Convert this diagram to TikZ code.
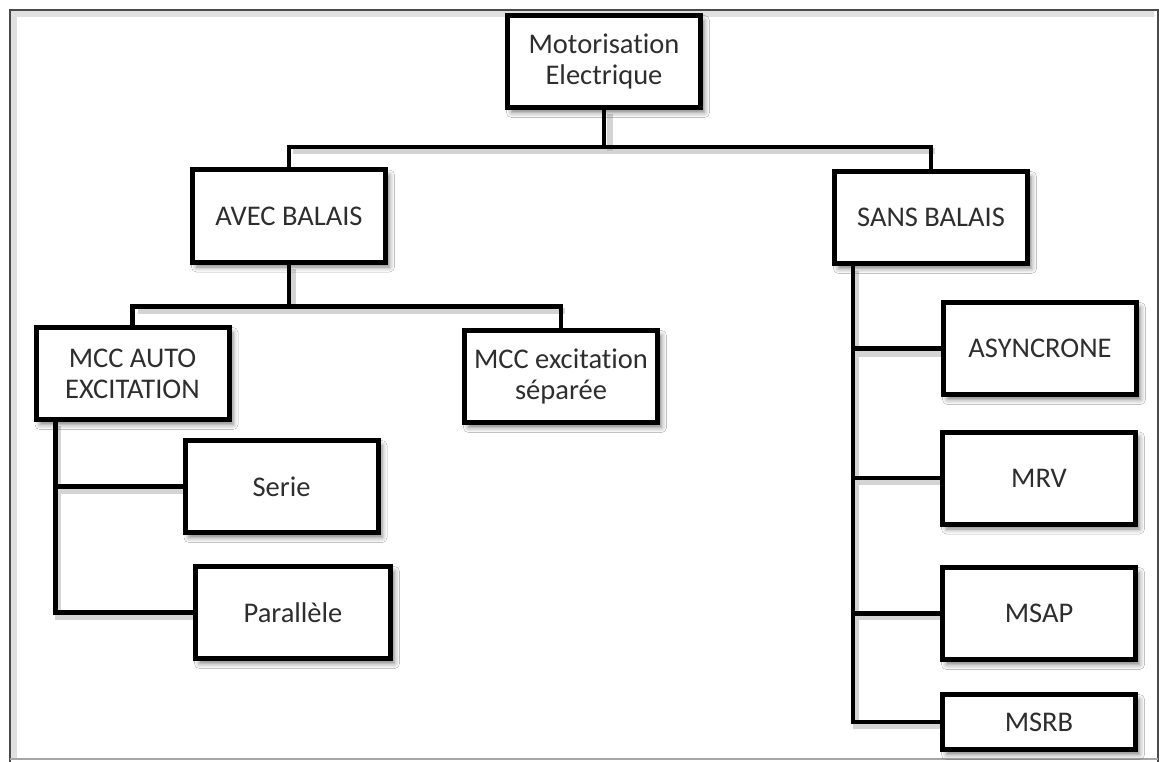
\documentclass[tikz,border=0pt]{standalone}
\usepackage{fontspec}
\setmainfont{Carlito}[Ligatures=NoCommon]
\usetikzlibrary{calc,shadows.blur}
\definecolor{inkgray}{HTML}{2E2E2E}
\definecolor{framegray}{HTML}{4A4A4A}
\begin{document}
\begin{tikzpicture}[x=1pt,y=-1pt,
  box/.style={draw=black, line width=5pt, fill=white, text=inkgray,
    align=center, font=\fontsize{28.5}{31}\selectfont,
    minimum width=193pt, minimum height=92pt, inner sep=0pt,
    blur shadow={shadow xshift=4pt, shadow yshift=-5pt,
      shadow blur radius=5pt, shadow opacity=50}},
  conn/.style={draw=black, line width=4.5pt, line join=miter},
  connshade/.style={draw=black!30, line width=6pt, opacity=0.55,
    xshift=3pt, yshift=-4pt}]
  \useasboundingbox (0,0) rectangle (1161,762);
  \fill[white] (0,0) rectangle (1161,762);
  % outer frame
  \draw[black!12, line width=6pt] (14,760) -- (14,14) -- (1154,14);
  \draw[framegray, line width=2pt] (10,762) -- (10,10) -- (1158,10) -- (1158,762);
  \draw[black!35, line width=1.5pt] (10,759) -- (1158,759);

  % box centres
  \coordinate (p-root) at (604,61.5);
  \coordinate (p-avec) at (289,216);
  \coordinate (p-sans) at (931,217.5);
  \coordinate (p-auto) at (132.5,373.5);
  \coordinate (p-sep) at (561,376.5);
  \coordinate (p-serie) at (281.5,486.5);
  \coordinate (p-par) at (293,612.5);
  \coordinate (p-async) at (1040,348.5);
  \coordinate (p-mrv) at (1039,478);
  \coordinate (p-msap) at (1039,613.5);
  \coordinate (p-msrb) at (1039,722);

  % connector shading drawn first, under everything
  \begin{scope}
    \draw[connshade] (607,110) -- (607,147);
    \draw[connshade] (290,147) -- (932,147);
    \draw[connshade] (290,265) -- (290,307) (135,307) -- (562,307);
    \draw[connshade] (55,422) -- (55,613) -- (193,613) (55,487) -- (183,487);
    \draw[connshade] (853,267) -- (853,722) -- (940,722)
      (853,350) -- (942,350) (853,478) -- (940,478) (853,613) -- (940,613);
  \end{scope}

  \node[box] (root) at (p-root) {Motorisation\\Electrique};
  \node[box] (avec) at (p-avec) {AVEC BALAIS};
  \node[box] (sans) at (p-sans) {SANS BALAIS};
  \node[box] (auto) at (p-auto) {MCC AUTO\\EXCITATION};
  \node[box] (sep) at (p-sep) {MCC excitation\\séparée};
  \node[box] (serie) at (p-serie) {Serie};
  \node[box, minimum width=195pt] (par) at (p-par) {Parallèle};
  \node[box] (async) at (p-async) {ASYNCRONE};
  \node[box] (mrv) at (p-mrv) {MRV};
  \node[box] (msap) at (p-msap) {MSAP};
  \node[box, minimum height=55pt] (msrb) at (p-msrb) {MSRB};

  % trunk points on the lower left of the parent boxes
  \coordinate (ta) at ($(auto.south west)+(22,0)$);
  \coordinate (ts) at ($(sans.south west)+(21,0)$);

  % level 1
  \draw[conn] (root.south) -- ++(0,37) -| (avec.north);
  \draw[conn] (root.south) -- ++(0,37) -| (sans.north);
  % level 2, brushed branch
  \draw[conn] (avec.south) -- ++(0,42) -| (auto.north);
  \draw[conn] (avec.south) -- ++(0,42) -| (sep.north);
  % self-excited variants
  \draw[conn] (ta) |- (par.west);
  \draw[conn] (ta) |- (serie.west);
  % brushless machines
  \draw[conn] (ts) |- (msrb.west);
  \draw[conn] (ts) |- (async.west);
  \draw[conn] (ts) |- (mrv.west);
  \draw[conn] (ts) |- (msap.west);
\end{tikzpicture}
\end{document}
